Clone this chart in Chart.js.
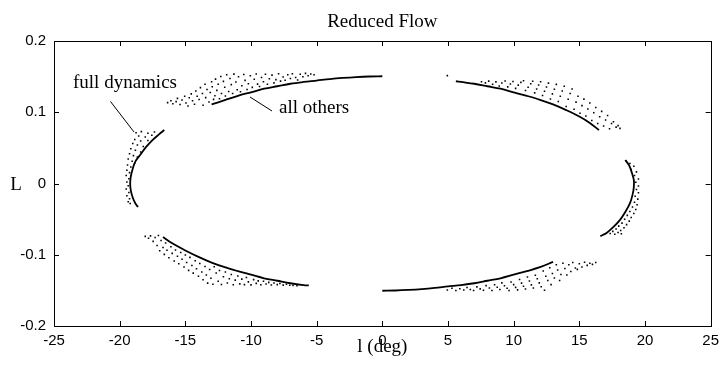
<!DOCTYPE html>
<html>
<head>
<meta charset="utf-8">
<script src="https://cdn.jsdelivr.net/npm/chart.js@4.4.1/dist/chart.umd.min.js"></script>
<style>
  html, body { margin: 0; padding: 0; background: #fff; }
  #c { display: block; }
</style>
</head>
<body>
<canvas id="c" width="725" height="365"></canvas>
<script>
// ---------- data ----------
const chartTitle = "Reduced Flow";
const xAxisLabel = "l (deg)";
const yAxisLabel = "L";
const xTicks = [-25, -20, -15, -10, -5, 0, 5, 10, 15, 20, 25];
const xTickLabels = ["-25", "-20", "-15", "-10", "-5", "0", "5", "10", "15", "20", "25"];
const yTicks = [-0.2, -0.1, 0, 0.1, 0.2];
const yTickLabels = ["-0.2", "-0.1", "0", "0.1", "0.2"];
const noteFull = "full dynamics";
const noteOthers = "all others";

// solid arcs ("all others")
const arcTopLeft = [[-13.0,0.111],[-12,0.117],[-11,0.123],[-10,0.128],[-9,0.133],[-8,0.1365],[-7,0.140],[-6,0.1425],[-5,0.1445],[-4,0.1466],[-3,0.1482],[-2,0.1494],[-1,0.1502],[0,0.1505]];
const arcLeft = [[-16.6,0.075],[-17.0,0.069],[-17.5,0.061],[-18.0,0.051],[-18.4,0.041],[-18.8,0.031],[-19.0,0.021],[-19.15,0.010],[-19.2,0.0],[-19.15,-0.010],[-19.0,-0.020],[-18.8,-0.028],[-18.6,-0.033]];
const arcBottomLeft = [[-16.7,-0.075],[-16.0,-0.084],[-15.0,-0.094],[-14.0,-0.103],[-13.0,-0.111],[-12.0,-0.1175],[-11.0,-0.123],[-10.0,-0.128],[-9.0,-0.133],[-8.0,-0.1365],[-7.0,-0.140],[-6.0,-0.1425],[-5.6,-0.143]];
const arcBottomRight = [[0,-0.1505],[1,-0.1502],[2,-0.1494],[3,-0.1482],[4,-0.1465],[5,-0.1444],[6,-0.1425],[7,-0.140],[8,-0.1365],[9,-0.133],[10,-0.128],[11,-0.123],[12,-0.1175],[13,-0.110]];
const arcRight = [[18.5,0.033],[18.8,0.025],[19.0,0.015],[19.15,0.005],[19.15,-0.005],[19.05,-0.016],[18.85,-0.028],[18.5,-0.040],[18.1,-0.051],[17.6,-0.061],[17.1,-0.069],[16.6,-0.074]];
const arcTopRight = [[5.6,0.1435],[6,0.1425],[7,0.140],[8,0.1365],[9,0.133],[10,0.128],[11,0.123],[12,0.1175],[13,0.111],[14,0.103],[15,0.094],[15.8,0.085],[16.5,0.075]];

// scattered points ("full dynamics")
const dotsTopLeft = [[-16.35,0.1135],[-16.1,0.1162],[-15.95,0.1118],[-15.7,0.1149],[-15.6,0.1195],[-15.4,0.1108],[-15.25,0.1172],[-15.05,0.1224],[-14.95,0.1131],[-14.8,0.1089],[-14.7,0.1203],[-14.55,0.1258],[-14.45,0.1162],[-14.3,0.1111],[-14.2,0.1297],[-14.1,0.1224],[-13.95,0.1178],[-13.85,0.1346],[-13.7,0.1263],[-13.65,0.1097],[-13.5,0.1392],[-13.45,0.1205],[-13.35,0.1318],[-13.2,0.1143],[-13.1,0.1276],[-13.0,0.1427],[-12.95,0.1358],[-12.85,0.1181],[-12.75,0.1232],[-12.7,0.1465],[-12.6,0.1307],[-12.5,0.1394],[-12.4,0.1189],[-12.3,0.1501],[-12.25,0.1262],[-12.1,0.1433],[-12.0,0.1352],[-11.95,0.1228],[-11.85,0.1527],[-11.7,0.1291],[-11.6,0.1474],[-11.5,0.1388],[-11.4,0.1262],[-11.3,0.1535],[-11.15,0.1425],[-11.05,0.1316],[-10.95,0.1498],[-10.8,0.1289],[-10.7,0.1372],[-10.55,0.1531],[-10.45,0.1447],[-10.3,0.1318],[-10.2,0.1401],[-10.05,0.1512],[-9.9,0.1349],[-9.75,0.1463],[-9.6,0.1538],[-9.5,0.1395],[-9.35,0.1361],[-9.2,0.1489],[-9.05,0.1427],[-8.9,0.1534],[-8.75,0.1392],[-8.6,0.1471],[-8.4,0.1521],[-8.25,0.1412],[-8.1,0.1458],[-7.9,0.1539],[-7.75,0.1437],[-7.55,0.1496],[-7.4,0.1448],[-7.2,0.1526],[-7.0,0.1473],[-6.85,0.1541],[-6.6,0.1489],[-6.45,0.1452],[-6.25,0.1532],[-6.05,0.1498],[-5.85,0.1546],[-5.65,0.1511],[-5.45,0.1538],[-5.2,0.1527]];
const dotsLeft = [[-18.75,0.0712],[-18.35,0.0728],[-17.85,0.0705],[-17.35,0.0724],[-18.55,0.0667],[-18.05,0.0652],[-17.55,0.0676],[-18.85,0.0618],[-18.4,0.0596],[-17.85,0.0603],[-19.0,0.0562],[-18.65,0.0541],[-18.2,0.0519],[-19.15,0.0487],[-18.8,0.0468],[-18.4,0.0442],[-19.25,0.0418],[-18.95,0.0391],[-18.65,0.0372],[-19.35,0.0343],[-19.05,0.0312],[-18.85,0.0287],[-19.4,0.0261],[-19.15,0.0232],[-19.45,0.0187],[-19.25,0.0153],[-19.5,0.0112],[-19.3,0.0068],[-19.45,0.0021],[-19.35,-0.0032],[-19.5,-0.0078],[-19.3,-0.0126],[-19.45,-0.0171],[-19.25,-0.0214],[-19.35,-0.0257],[-19.2,-0.0281]];
const dotsBottomLeft = [[-18.05,-0.0742],[-17.8,-0.0768],[-17.65,-0.0735],[-17.45,-0.0812],[-17.3,-0.0758],[-17.15,-0.0869],[-17.05,-0.0731],[-16.95,-0.0944],[-16.85,-0.0801],[-16.7,-0.0897],[-16.6,-0.0995],[-16.5,-0.0836],[-16.4,-0.0938],[-16.25,-0.1042],[-16.1,-0.0887],[-16.0,-0.0981],[-15.85,-0.1087],[-15.75,-0.0934],[-15.6,-0.1021],[-15.5,-0.1126],[-15.35,-0.0968],[-15.25,-0.1064],[-15.1,-0.1171],[-15.0,-0.1003],[-14.9,-0.1109],[-14.75,-0.1219],[-14.65,-0.1037],[-14.5,-0.1152],[-14.4,-0.1258],[-14.25,-0.1085],[-14.15,-0.1196],[-14.0,-0.1302],[-13.9,-0.1123],[-13.75,-0.1241],[-13.65,-0.1351],[-13.5,-0.1164],[-13.4,-0.1283],[-13.3,-0.1398],[-13.15,-0.1207],[-13.05,-0.1329],[-12.9,-0.1415],[-12.8,-0.1168],[-12.65,-0.1256],[-12.5,-0.1372],[-12.4,-0.1221],[-12.25,-0.1418],[-12.1,-0.1309],[-11.95,-0.1243],[-11.8,-0.1397],[-11.65,-0.1338],[-11.5,-0.1278],[-11.35,-0.1422],[-11.2,-0.1356],[-11.0,-0.1297],[-10.85,-0.1409],[-10.7,-0.1342],[-10.5,-0.1419],[-10.35,-0.1318],[-10.2,-0.1381],[-10.0,-0.1423],[-9.8,-0.1349],[-9.6,-0.1402],[-9.45,-0.1367],[-9.25,-0.1421],[-9.05,-0.1372],[-8.85,-0.1411],[-8.65,-0.1388],[-8.45,-0.1424],[-8.25,-0.1397],[-8.0,-0.1419],[-7.8,-0.1403],[-7.55,-0.1426],[-7.3,-0.1414],[-7.05,-0.1428],[-6.8,-0.1432],[-6.5,-0.1436]];
const dotsBottomRight = [[4.95,-0.1496],[5.3,-0.1471],[5.6,-0.1502],[5.9,-0.1478],[6.2,-0.1495],[6.45,-0.1459],[6.7,-0.1488],[6.95,-0.1502],[7.2,-0.1451],[7.45,-0.1479],[7.7,-0.1497],[7.9,-0.1433],[8.15,-0.1466],[8.35,-0.1501],[8.55,-0.1422],[8.75,-0.1457],[8.95,-0.1488],[9.1,-0.1395],[9.3,-0.1436],[9.5,-0.1471],[9.65,-0.1503],[9.8,-0.1382],[10.0,-0.1419],[10.15,-0.1458],[10.3,-0.1493],[10.45,-0.1347],[10.6,-0.1398],[10.75,-0.1441],[10.9,-0.1482],[11.05,-0.1312],[11.2,-0.1369],[11.35,-0.1423],[11.5,-0.1466],[11.65,-0.1287],[11.8,-0.1338],[11.95,-0.1395],[12.1,-0.1448],[12.25,-0.1229],[12.35,-0.1497],[12.45,-0.1302],[12.6,-0.1361],[12.75,-0.1183],[12.85,-0.1419],[12.95,-0.1264],[13.1,-0.1327],[13.25,-0.1141],[13.35,-0.1213],[13.5,-0.1362],[13.6,-0.1276],[13.75,-0.1118],[13.9,-0.1194],[14.05,-0.1285],[14.2,-0.1139],[14.35,-0.1236],[14.5,-0.1108],[14.7,-0.1187],[14.85,-0.1205],[15.0,-0.1125],[15.2,-0.1172],[15.4,-0.1106],[15.6,-0.1149],[15.8,-0.1118],[16.0,-0.1135],[16.25,-0.1108]];
const dotsRight = [[18.55,0.0318],[18.85,0.0282],[19.15,0.0241],[18.95,0.0196],[19.35,0.0163],[19.2,0.0112],[19.5,0.0064],[19.3,0.0017],[19.5,-0.0036],[19.35,-0.0083],[19.5,-0.0131],[19.25,-0.0178],[19.45,-0.0219],[19.2,-0.0262],[19.4,-0.0298],[19.05,-0.0331],[19.3,-0.0364],[18.85,-0.0392],[19.15,-0.0421],[18.65,-0.0447],[18.95,-0.0476],[18.45,-0.0503],[18.8,-0.0528],[18.25,-0.0556],[18.6,-0.0577],[18.0,-0.0598],[18.4,-0.0621],[17.8,-0.0638],[18.15,-0.0659],[17.55,-0.0672],[17.95,-0.0688],[17.35,-0.0701],[17.7,-0.0712],[18.2,-0.0705]];
const dotsTopRight = [[4.95,0.1514],[7.55,0.1428],[7.85,0.1412],[8.1,0.1437],[8.4,0.1393],[8.65,0.1426],[8.9,0.1368],[9.1,0.1411],[9.35,0.1438],[9.55,0.1356],[9.75,0.1397],[9.95,0.1432],[10.15,0.1335],[10.35,0.1381],[10.55,0.1419],[10.75,0.1442],[10.9,0.1306],[11.1,0.1352],[11.3,0.1401],[11.45,0.1436],[11.6,0.1272],[11.75,0.1327],[11.9,0.1383],[12.05,0.1428],[12.2,0.1236],[12.35,0.1295],[12.5,0.1354],[12.65,0.1409],[12.8,0.1187],[12.95,0.1258],[13.1,0.1322],[13.25,0.1391],[13.4,0.1152],[13.55,0.1224],[13.7,0.1297],[13.85,0.1366],[14.0,0.1081],[14.15,0.1183],[14.3,0.1262],[14.45,0.1326],[14.6,0.1041],[14.75,0.1142],[14.9,0.1225],[15.05,0.0987],[15.2,0.1093],[15.35,0.1184],[15.5,0.0948],[15.65,0.1046],[15.8,0.1129],[15.95,0.0885],[16.1,0.0993],[16.25,0.1068],[16.4,0.0842],[16.55,0.0938],[16.7,0.1012],[16.85,0.0807],[17.0,0.0891],[17.15,0.0954],[17.3,0.0768],[17.45,0.0842],[17.6,0.0866],[17.8,0.0791],[17.95,0.0812],[18.1,0.0774]];

// ---------- chart ----------
const SERIF = '"Liberation Serif", "Times New Roman", serif';
const SANS = '"Liberation Sans", Arial, sans-serif';
const toXY = arr => arr.map(p => ({x: p[0], y: p[1]}));

const arcs = [arcTopLeft, arcLeft, arcBottomLeft, arcBottomRight, arcRight, arcTopRight];
const dots = [dotsTopLeft, dotsLeft, dotsBottomLeft, dotsBottomRight, dotsRight, dotsTopRight];

const datasets = [];
dots.forEach(d => datasets.push({
  data: toXY(d), showLine: false, pointRadius: 1.1, pointHoverRadius: 0, pointStyle: 'rect',
  pointBackgroundColor: '#000', pointBorderWidth: 0, backgroundColor: '#000'
}));
arcs.forEach(a => datasets.push({
  data: toXY(a), showLine: true, borderColor: '#000', borderWidth: 1.8,
  pointRadius: 0, tension: 0.35, fill: false
}));

const framePlugin = {
  id: 'frame',
  afterDraw(chart) {
    const {ctx, chartArea: ca, scales: {x, y}} = chart;
    ctx.save();
    ctx.strokeStyle = '#000';
    ctx.lineWidth = 1;
    ctx.strokeRect(Math.round(ca.left) + 0.5, Math.round(ca.top) + 0.5,
                   Math.round(ca.right - ca.left), Math.round(ca.bottom - ca.top));
    const tl = 5;
    ctx.beginPath();
    xTicks.forEach(v => {
      const px = Math.round(x.getPixelForValue(v)) + 0.5;
      ctx.moveTo(px, ca.bottom); ctx.lineTo(px, ca.bottom - tl);
      ctx.moveTo(px, ca.top); ctx.lineTo(px, ca.top + tl);
    });
    yTicks.forEach(v => {
      const py = Math.round(y.getPixelForValue(v)) + 0.5;
      ctx.moveTo(ca.left, py); ctx.lineTo(ca.left + tl, py);
      ctx.moveTo(ca.right, py); ctx.lineTo(ca.right - tl, py);
    });
    ctx.stroke();

    // texts
    ctx.fillStyle = '#000';
    ctx.font = '19px ' + SERIF;
    ctx.textAlign = 'center';
    ctx.textBaseline = 'alphabetic';
    ctx.fillText(chartTitle, (ca.left + ca.right) / 2, 27);
    ctx.fillText(xAxisLabel, (ca.left + ca.right) / 2, 352);
    ctx.fillText(yAxisLabel, 16, 190);
    ctx.textAlign = 'left';
    ctx.fillText(noteFull, 73, 88);
    ctx.fillText(noteOthers, 279, 113);
    // leader lines
    ctx.beginPath();
    ctx.moveTo(110.5, 101.5); ctx.lineTo(134, 132);
    ctx.moveTo(250, 97); ctx.lineTo(272, 111);
    ctx.stroke();
    ctx.restore();
  }
};

new Chart(document.getElementById('c'), {
  type: 'scatter',
  data: { datasets },
  options: {
    responsive: false,
    animation: false,
    devicePixelRatio: 1,
    layout: { padding: { left: 0, right: 11, top: 41, bottom: 0 } },
    plugins: { legend: { display: false }, tooltip: { enabled: false }, title: { display: false } },
    scales: {
      x: {
        type: 'linear', min: -25, max: 25,
        afterBuildTicks: s => { s.ticks = xTicks.map(v => ({value: v})); },
        afterFit: s => { s.height = 39; },
        grid: { display: false, drawTicks: false },
        border: { display: false },
        ticks: {
          color: '#000', font: { family: SANS, size: 15 }, padding: 6, maxRotation: 0, autoSkip: false,
          callback: (v) => { const i = xTicks.indexOf(v); return i >= 0 ? xTickLabels[i] : ''; }
        }
      },
      y: {
        type: 'linear', min: -0.2, max: 0.2,
        afterBuildTicks: s => { s.ticks = yTicks.map(v => ({value: v})); },
        afterFit: s => { s.width = 54; },
        grid: { display: false, drawTicks: false },
        border: { display: false },
        ticks: {
          color: '#000', font: { family: SANS, size: 15 }, padding: 8, autoSkip: false,
          callback: (v) => { const i = yTicks.findIndex(t => Math.abs(t - v) < 1e-9); return i >= 0 ? yTickLabels[i] : ''; }
        }
      }
    }
  },
  plugins: [framePlugin]
});
</script>
</body>
</html>
